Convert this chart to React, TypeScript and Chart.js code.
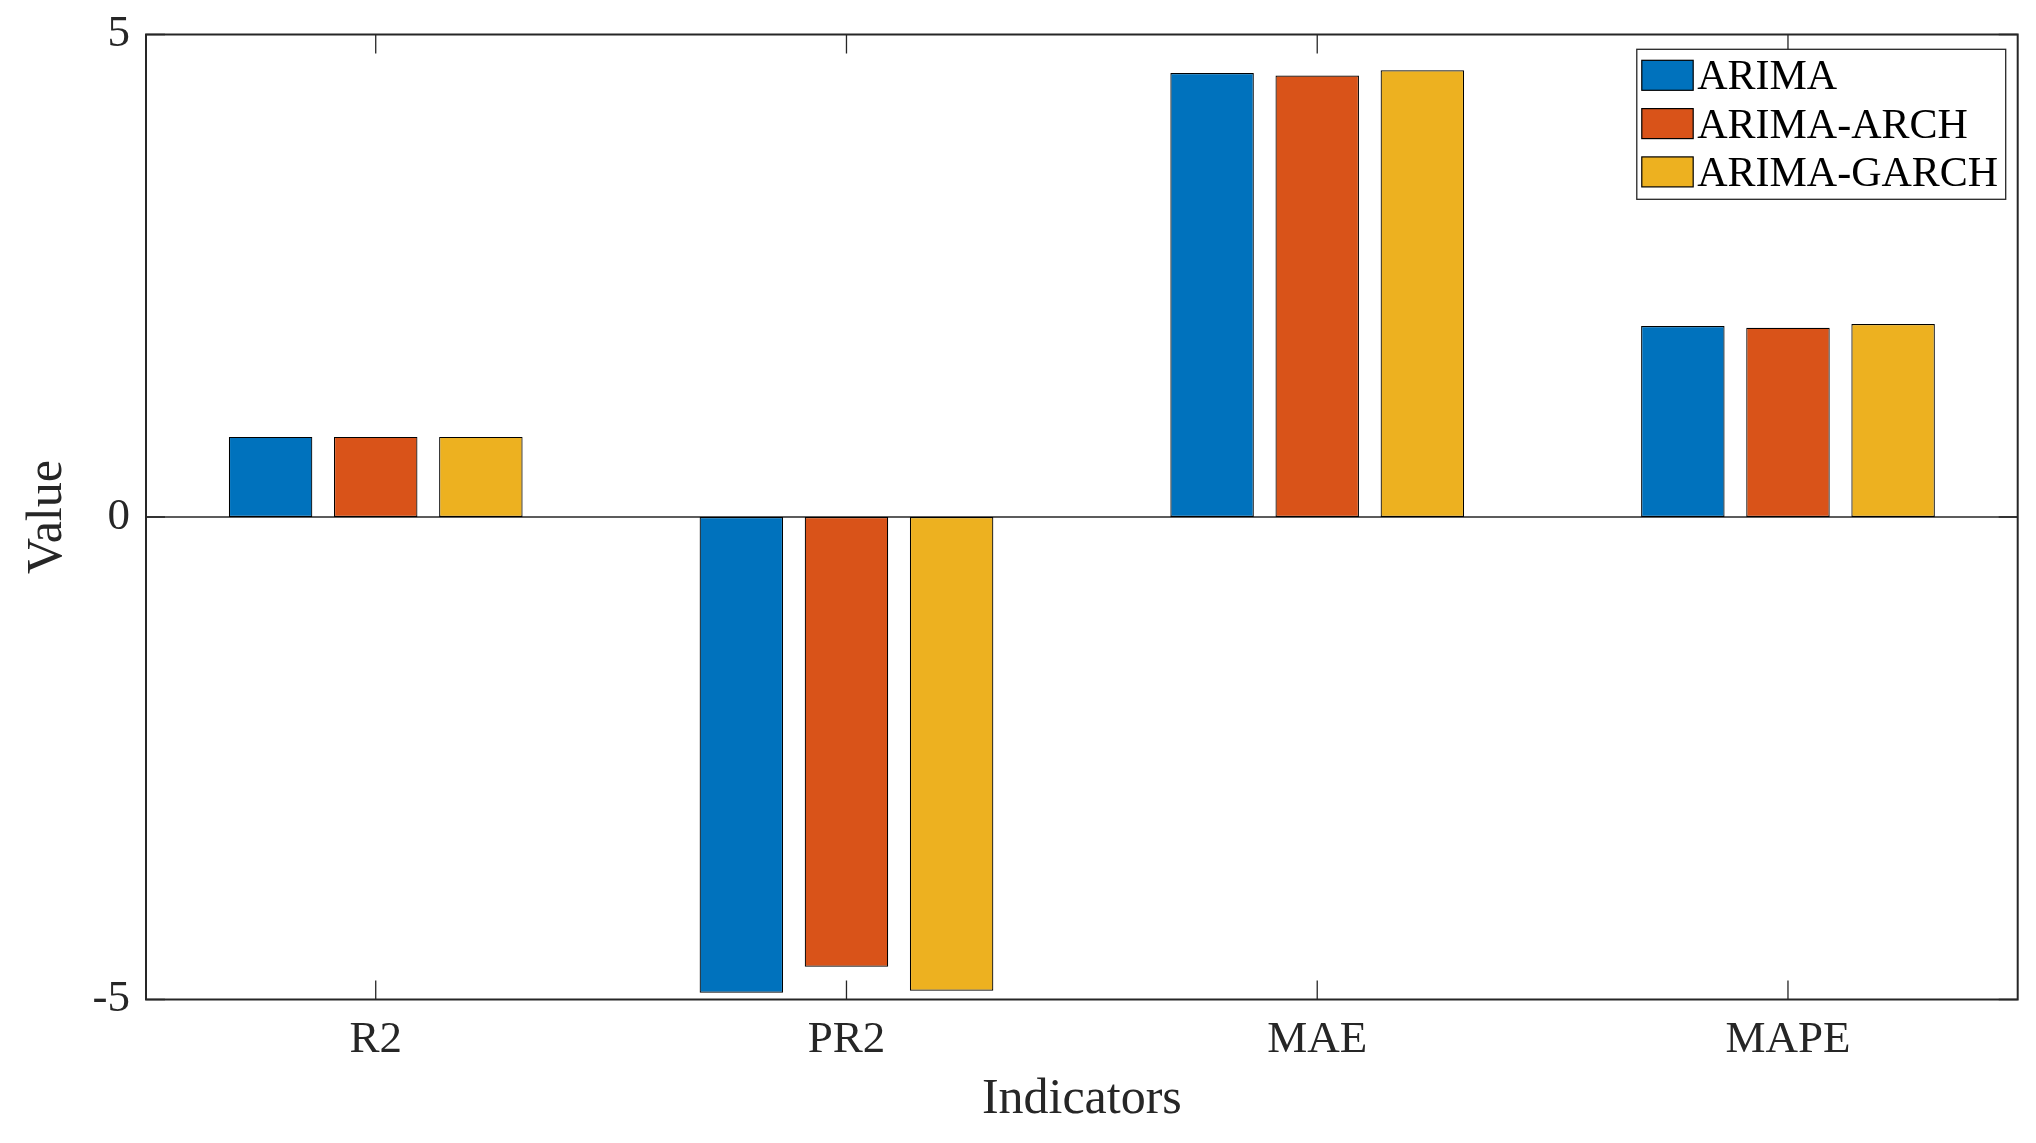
import React, { useEffect, useRef } from "react";
import { Chart, registerables } from "chart.js";

Chart.register(...registerables);

const categories = ["R2", "PR2", "MAE", "MAPE"];
const seriesNames = ["ARIMA", "ARIMA-ARCH", "ARIMA-GARCH"];
const arimaValues = [0.83, -4.93, 4.6, 1.98];
const arimaArchValues = [0.83, -4.66, 4.575, 1.96];
const arimaGarchValues = [0.83, -4.91, 4.63, 2.0];
const yTickValues = [-5, 0, 5];
const seriesColors = ["#0072BD", "#D95319", "#EDB120"];

const FONT = "'Liberation Serif', 'Times New Roman', serif";
const AXIS = "#262626";
const X_EDGE = 0.488; // half-margin of the x range beyond first/last category

const matlabFrame = {
  id: "matlabFrame",
  beforeDatasetsDraw(chart: any) {
    const { ctx, chartArea } = chart;
    const y0 = chart.scales.y.getPixelForValue(0);
    ctx.save();
    ctx.strokeStyle = AXIS;
    ctx.lineWidth = 1.3;
    ctx.beginPath();
    ctx.moveTo(chartArea.left, y0);
    ctx.lineTo(chartArea.right, y0);
    ctx.stroke();
    ctx.restore();
  },
  afterDatasetsDraw(chart: any) {
    const { ctx, chartArea } = chart;
    const { left, right, top, bottom } = chartArea;
    const xs = chart.scales.x;
    const ys = chart.scales.y;
    const tickLen = 19;
    ctx.save();
    ctx.strokeStyle = AXIS;
    ctx.lineWidth = 1.3;
    ctx.beginPath();
    for (let i = 0; i < categories.length; i++) {
      const px = xs.getPixelForTick(i);
      ctx.moveTo(px, bottom);
      ctx.lineTo(px, bottom - tickLen);
      ctx.moveTo(px, top);
      ctx.lineTo(px, top + tickLen);
    }
    for (const v of yTickValues) {
      const py = ys.getPixelForValue(v);
      ctx.moveTo(left, py);
      ctx.lineTo(left + tickLen, py);
      ctx.moveTo(right, py);
      ctx.lineTo(right - tickLen, py);
    }
    ctx.stroke();
    ctx.lineWidth = 2;
    ctx.strokeRect(left, top, right - left, bottom - top);

    // legend
    const fontSize = 42;
    ctx.font = `${fontSize}px ${FONT}`;
    const widths = seriesNames.map((n) => ctx.measureText(n).width);
    const maxW = Math.max(...widths);
    const swW = 51.4;
    const swH = 30;
    const padL = 5;
    const gap = 4;
    const padR = 7.5;
    const rowH = 48.3;
    const boxW = padL + swW + gap + maxW + padR;
    const boxH = 150;
    const boxRight = right - 12;
    const boxLeft = boxRight - boxW;
    const boxTop = top + 14.8;
    ctx.fillStyle = "#ffffff";
    ctx.fillRect(boxLeft, boxTop, boxW, boxH);
    ctx.strokeStyle = AXIS;
    ctx.lineWidth = 1.3;
    ctx.strokeRect(boxLeft, boxTop, boxW, boxH);
    chart.data.datasets.forEach((ds: any, i: number) => {
      const cy = boxTop + 26 + i * rowH;
      ctx.fillStyle = ds.backgroundColor;
      ctx.fillRect(boxLeft + padL, cy - swH / 2, swW, swH);
      ctx.strokeStyle = "#000000";
      ctx.lineWidth = 1.2;
      ctx.strokeRect(boxLeft + padL, cy - swH / 2, swW, swH);
      ctx.fillStyle = "#000000";
      ctx.textAlign = "left";
      ctx.textBaseline = "alphabetic";
      ctx.fillText(ds.label, boxLeft + padL + swW + gap, cy + 0.331 * fontSize);
    });
    ctx.restore();
  },
};

export default function App() {
  const canvasRef = useRef<HTMLCanvasElement | null>(null);

  useEffect(() => {
    document.body.style.margin = "0";
    if (!canvasRef.current) return;
    const seriesValues = [arimaValues, arimaArchValues, arimaGarchValues];
    const chart = new Chart(canvasRef.current, {
      type: "bar",
      data: {
        labels: categories,
        datasets: seriesNames.map((name, i) => ({
          label: name,
          data: seriesValues[i],
          backgroundColor: seriesColors[i],
          borderColor: "#000000",
          borderWidth: 1.2,
          borderSkipped: false,
          barPercentage: 0.794,
          categoryPercentage: 0.67,
        })),
      },
      options: {
        animation: false,
        responsive: true,
        maintainAspectRatio: false,
        layout: { padding: { left: 0, top: 34.5, right: 18.3, bottom: 0 } },
        plugins: {
          legend: { display: false },
          tooltip: { enabled: false },
        },
        scales: {
          x: {
            type: "category",
            offset: false,
            grid: { display: false, drawTicks: false },
            border: { display: false },
            afterBuildTicks(scale: any) {
              scale._startValue = -X_EDGE;
              scale._valueRange = categories.length - 1 + 2 * X_EDGE;
            },
            ticks: {
              color: AXIS,
              padding: 13.3,
              font: { family: FONT, size: 45 },
              maxRotation: 0,
            },
            title: {
              display: true,
              text: "Indicators",
              color: AXIS,
              font: { family: FONT, size: 50 },
              padding: { top: 0, bottom: 13 },
            },
            afterFit(scale: any) {
              scale.height = 143.5;
              scale.paddingLeft = 0;
              scale.paddingRight = 0;
            },
          },
          y: {
            min: -5,
            max: 5,
            grid: { display: false, drawTicks: false },
            border: { display: false },
            afterBuildTicks(scale: any) {
              scale.ticks = yTickValues.map((v) => ({ value: v }));
            },
            ticks: {
              color: AXIS,
              padding: 16,
              font: { family: FONT, size: 45 },
            },
            title: {
              display: true,
              text: "Value",
              color: AXIS,
              font: { family: FONT, size: 50 },
              padding: { top: 17.5, bottom: 0 },
            },
            afterFit(scale: any) {
              scale.width = 146;
              scale.paddingTop = 0;
              scale.paddingBottom = 0;
            },
          },
        },
      },
      plugins: [matlabFrame],
    });
    return () => chart.destroy();
  }, []);

  return (
    <div style={{ position: "fixed", left: 0, top: 0, width: "2036px", height: "1143px", background: "#ffffff" }}>
      <canvas ref={canvasRef} />
    </div>
  );
}
